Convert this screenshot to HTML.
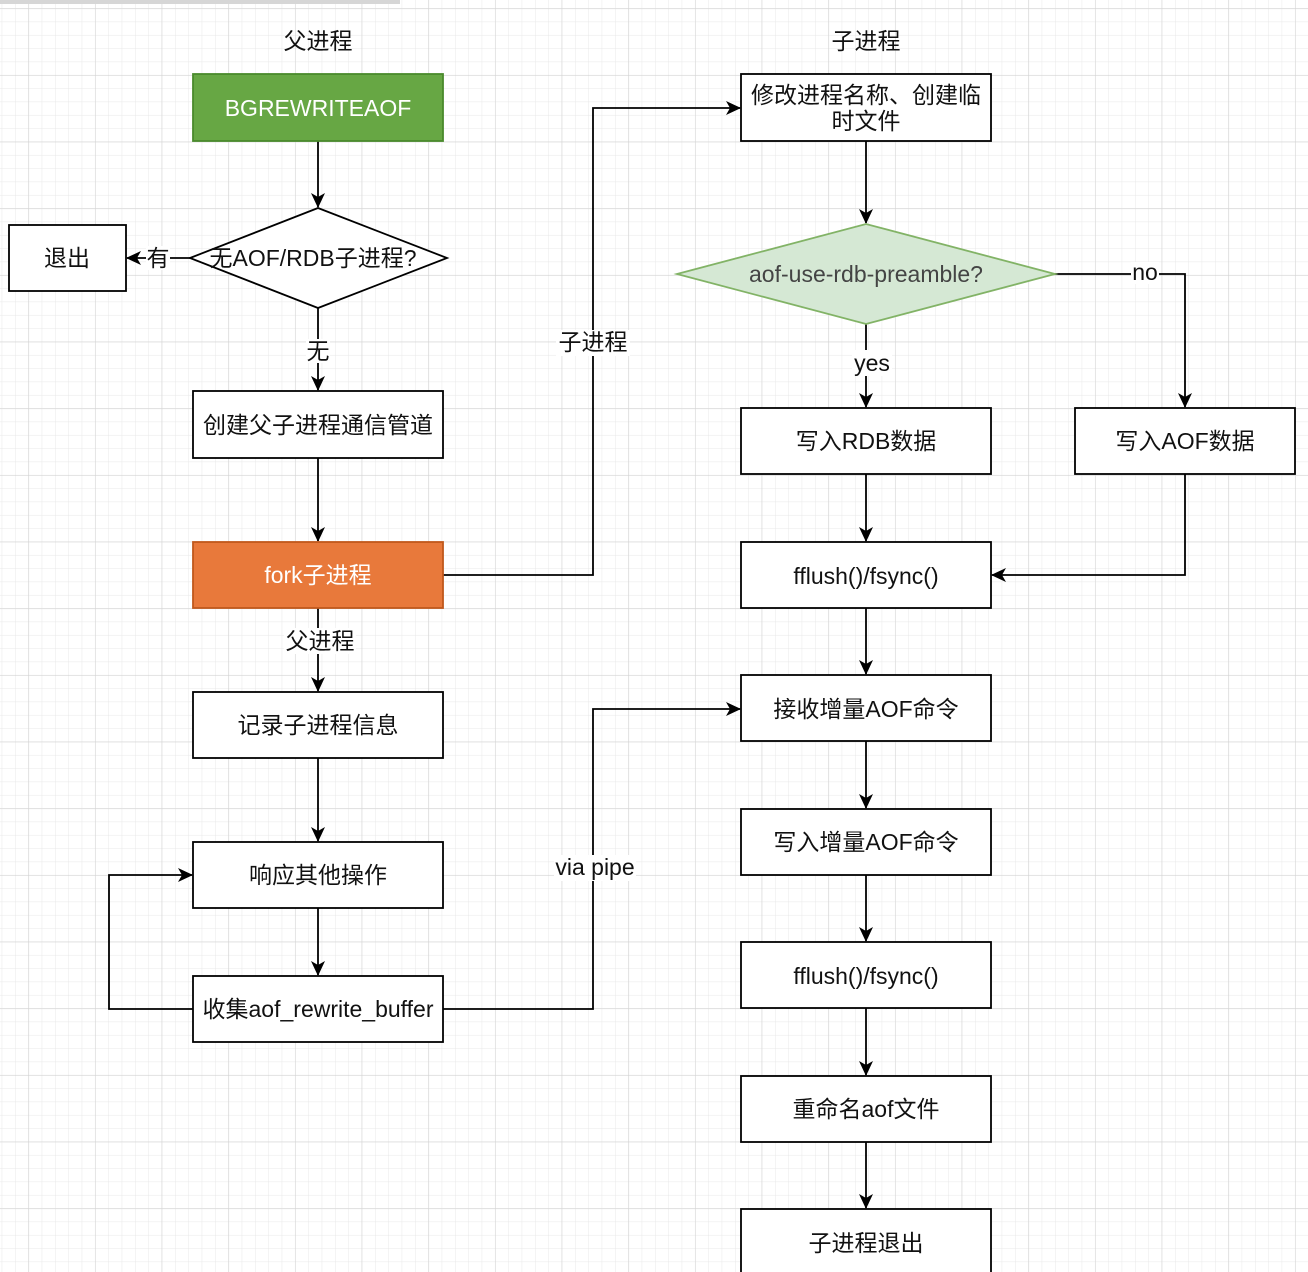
<!DOCTYPE html>
<html><head><meta charset="utf-8"><style>
html,body{margin:0;padding:0;background:#fff}
svg{display:block}
text{font-family:"Liberation Sans","Noto Sans CJK SC",sans-serif;font-size:23px;fill:#111}
</style></head><body>
<svg width="1308" height="1272" viewBox="0 0 1308 1272" xmlns="http://www.w3.org/2000/svg">
<defs>
<pattern id="minor" x="1.7" y="8.3" width="13.333" height="13.333" patternUnits="userSpaceOnUse">
<path d="M0 0H13.333M0 0V13.333" stroke="#e8e8e8" stroke-width="1" fill="none"/>
</pattern>
<pattern id="major" x="28.3" y="8.3" width="66.667" height="66.667" patternUnits="userSpaceOnUse">
<path d="M0 0H66.667M0 0V66.667" stroke="#d4d4d4" stroke-width="1.2" fill="none"/>
</pattern>
<marker id="a" markerWidth="16" markerHeight="16" refX="14" refY="7" orient="auto" markerUnits="userSpaceOnUse">
<path d="M0 0L15 7L0 14L4 7Z" fill="#000"/>
</marker>
</defs>
<rect width="1308" height="1272" fill="url(#minor)"/>
<rect width="1308" height="1272" fill="url(#major)"/>
<rect x="0" y="0" width="400" height="4" fill="#d6d6d6"/>

<g fill="none" stroke="#000" stroke-width="1.8">
<path d="M318 141V207" marker-end="url(#a)"/>
<path d="M190 258H127" marker-end="url(#a)"/>
<path d="M318 308V390" marker-end="url(#a)"/>
<path d="M318 458V541" marker-end="url(#a)"/>
<path d="M318 608V691" marker-end="url(#a)"/>
<path d="M318 758V841" marker-end="url(#a)"/>
<path d="M318 908V975" marker-end="url(#a)"/>
<path d="M193 1009H109V875H192" marker-end="url(#a)"/>
<path d="M443 575H593V108H740" marker-end="url(#a)"/>
<path d="M443 1009H593V709H740" marker-end="url(#a)"/>
<path d="M866 141V223" marker-end="url(#a)"/>
<path d="M866 324V407" marker-end="url(#a)"/>
<path d="M1055 274H1185V407" marker-end="url(#a)"/>
<path d="M866 474V541" marker-end="url(#a)"/>
<path d="M1185 474V575H992" marker-end="url(#a)"/>
<path d="M866 608V674" marker-end="url(#a)"/>
<path d="M866 741V808" marker-end="url(#a)"/>
<path d="M866 875V941" marker-end="url(#a)"/>
<path d="M866 1008V1075" marker-end="url(#a)"/>
<path d="M866 1142V1208" marker-end="url(#a)"/>
</g>

<g stroke-width="1.8">
<rect x="193" y="74" width="250" height="67" fill="#67a744" stroke="#4a8a2c"/>
<polygon points="190,258 318,208 447,258 318,308" fill="#fff" stroke="#000"/>
<rect x="9" y="225" width="117" height="66" fill="#fff" stroke="#000"/>
<rect x="193" y="391" width="250" height="67" fill="#fff" stroke="#000"/>
<rect x="193" y="542" width="250" height="66" fill="#e8793b" stroke="#c0581c"/>
<rect x="193" y="692" width="250" height="66" fill="#fff" stroke="#000"/>
<rect x="193" y="842" width="250" height="66" fill="#fff" stroke="#000"/>
<rect x="193" y="976" width="250" height="66" fill="#fff" stroke="#000"/>

<rect x="741" y="74" width="250" height="67" fill="#fff" stroke="#000"/>
<polygon points="677,274 866,224 1055,274 866,324" fill="#d5e8d4" stroke="#82b366"/>
<rect x="741" y="408" width="250" height="66" fill="#fff" stroke="#000"/>
<rect x="1075" y="408" width="220" height="66" fill="#fff" stroke="#000"/>
<rect x="741" y="542" width="250" height="66" fill="#fff" stroke="#000"/>
<rect x="741" y="675" width="250" height="66" fill="#fff" stroke="#000"/>
<rect x="741" y="809" width="250" height="66" fill="#fff" stroke="#000"/>
<rect x="741" y="942" width="250" height="66" fill="#fff" stroke="#000"/>
<rect x="741" y="1076" width="250" height="66" fill="#fff" stroke="#000"/>
<rect x="741" y="1209" width="250" height="80" fill="#fff" stroke="#000"/>
</g>

<g fill="#fff">
<rect x="146" y="246" width="24" height="24"/>
<rect x="306" y="339" width="24" height="24"/>
<rect x="284" y="628" width="72" height="26"/>
<rect x="556" y="330" width="74" height="26"/>
<rect x="554" y="855" width="82" height="26"/>
<rect x="1131" y="262" width="28" height="22"/>
<rect x="852" y="350" width="40" height="26"/>
</g>

<g text-anchor="middle" dominant-baseline="central">
<text x="318" y="41">父进程</text>
<text x="866" y="41">子进程</text>
<text x="318" y="108" style="fill:#fff">BGREWRITEAOF</text>
<text x="313" y="258">无AOF/RDB子进程?</text>
<text x="67" y="258">退出</text>
<text x="158" y="258">有</text>
<text x="318" y="351">无</text>
<text x="318" y="425">创建父子进程通信管道</text>
<text x="318" y="575" style="fill:#fff">fork子进程</text>
<text x="320" y="641">父进程</text>
<text x="318" y="725">记录子进程信息</text>
<text x="318" y="875">响应其他操作</text>
<text x="318" y="1009">收集aof_rewrite_buffer</text>
<text x="593" y="342">子进程</text>
<text x="595" y="867">via pipe</text>
<text x="866" y="95">修改进程名称、创建临</text>
<text x="866" y="121">时文件</text>
<text x="866" y="274" style="fill:#444">aof-use-rdb-preamble?</text>
<text x="1145" y="272">no</text>
<text x="872" y="363">yes</text>
<text x="866" y="441">写入RDB数据</text>
<text x="1185" y="441">写入AOF数据</text>
<text x="866" y="576">fflush()/fsync()</text>
<text x="866" y="709">接收增量AOF命令</text>
<text x="866" y="842">写入增量AOF命令</text>
<text x="866" y="976">fflush()/fsync()</text>
<text x="866" y="1109">重命名aof文件</text>
<text x="866" y="1243">子进程退出</text>
</g>
</svg>
</body></html>
